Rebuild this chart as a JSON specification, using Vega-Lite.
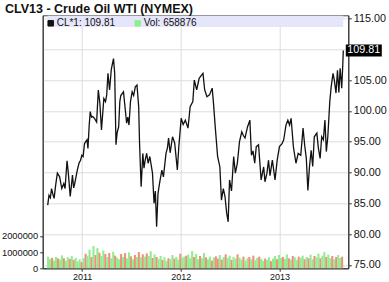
{
  "$schema": "https://vega.github.io/schema/vega-lite/v6.json",
  "width": 305.6,
  "height": 253,
  "autosize": {"type": "none"},
  "padding": {"left": 42.7, "top": 15.3, "right": 40.7, "bottom": 13.7},
  "background": "white",
  "config": {"view": {"stroke": "#444", "strokeWidth": 1}, "font": "Liberation Sans", "axis": {"labelOverlap": false}},
  "title": {"text": "CLV13 - Crude Oil WTI (NYMEX)", "anchor": "start", "frame": "group", "fontSize": 12.5, "fontWeight": "bold", "font": "Liberation Sans", "color": "#111", "dx": -37.7, "dy": 16.5, "offset": 4, "baseline": "alphabetic"},
  "datasets": {
    "price": [
      {"t":2010.651,"p":84.7},{"t":2010.664,"p":86.3},{"t":2010.678,"p":85.9},{"t":2010.690,"p":87.4},{"t":2010.703,"p":86.5},{"t":2010.716,"p":85.8},{"t":2010.732,"p":88.0},{"t":2010.749,"p":89.9},{"t":2010.772,"p":89.3},{"t":2010.781,"p":88.5},{"t":2010.794,"p":87.4},{"t":2010.814,"p":88.2},{"t":2010.827,"p":87.4},{"t":2010.847,"p":91.9},{"t":2010.860,"p":89.9},{"t":2010.879,"p":86.1},{"t":2010.889,"p":87.5},{"t":2010.902,"p":89.6},{"t":2010.914,"p":87.5},{"t":2010.925,"p":88.2},{"t":2010.951,"p":90.4},{"t":2010.968,"p":91.5},{"t":2010.984,"p":92.0},{"t":2010.997,"p":92.8},
      {"t":2011.010,"p":92.6},{"t":2011.024,"p":94.7},{"t":2011.036,"p":95.0},{"t":2011.049,"p":95.3},{"t":2011.059,"p":93.9},{"t":2011.071,"p":97.5},{"t":2011.082,"p":99.9},{"t":2011.095,"p":99.0},{"t":2011.108,"p":99.1},{"t":2011.125,"p":98.8},{"t":2011.147,"p":98.2},{"t":2011.164,"p":103.4},{"t":2011.180,"p":101.2},{"t":2011.196,"p":96.9},{"t":2011.220,"p":102.0},{"t":2011.237,"p":101.5},{"t":2011.249,"p":102.6},{"t":2011.262,"p":106.1},{"t":2011.278,"p":103.4},{"t":2011.296,"p":106.8},{"t":2011.318,"p":108.5},{"t":2011.330,"p":106.1},{"t":2011.343,"p":94.5},{"t":2011.355,"p":96.5},{"t":2011.370,"p":97.4},{"t":2011.382,"p":101.5},{"t":2011.392,"p":102.5},{"t":2011.419,"p":103.1},{"t":2011.431,"p":101.2},{"t":2011.451,"p":98.0},{"t":2011.463,"p":99.0},{"t":2011.475,"p":97.7},{"t":2011.490,"p":101.5},{"t":2011.507,"p":103.1},{"t":2011.522,"p":102.5},{"t":2011.539,"p":103.9},{"t":2011.556,"p":104.2},{"t":2011.573,"p":100.7},{"t":2011.582,"p":94.7},{"t":2011.598,"p":87.7},{"t":2011.615,"p":93.1},{"t":2011.627,"p":90.7},{"t":2011.639,"p":92.0},{"t":2011.654,"p":93.1},{"t":2011.669,"p":91.5},{"t":2011.686,"p":92.6},{"t":2011.713,"p":89.9},{"t":2011.729,"p":85.0},{"t":2011.742,"p":87.0},{"t":2011.755,"p":81.2},{"t":2011.769,"p":86.6},{"t":2011.784,"p":88.2},{"t":2011.808,"p":90.4},{"t":2011.824,"p":89.3},{"t":2011.850,"p":93.1},{"t":2011.865,"p":94.0},{"t":2011.876,"p":95.6},{"t":2011.892,"p":93.2},{"t":2011.916,"p":95.8},{"t":2011.938,"p":94.8},{"t":2011.965,"p":90.4},{"t":2011.980,"p":94.2},
      {"t":2012.004,"p":98.8},{"t":2012.024,"p":97.8},{"t":2012.046,"p":98.5},{"t":2012.073,"p":97.2},{"t":2012.095,"p":100.7},{"t":2012.122,"p":101.5},{"t":2012.137,"p":105.0},{"t":2012.161,"p":103.4},{"t":2012.186,"p":105.3},{"t":2012.210,"p":105.8},{"t":2012.225,"p":106.1},{"t":2012.242,"p":103.4},{"t":2012.265,"p":102.3},{"t":2012.291,"p":102.6},{"t":2012.318,"p":103.7},{"t":2012.330,"p":101.5},{"t":2012.350,"p":97.2},{"t":2012.373,"p":92.6},{"t":2012.396,"p":90.9},{"t":2012.412,"p":85.5},{"t":2012.431,"p":87.4},{"t":2012.448,"p":86.1},{"t":2012.465,"p":83.4},{"t":2012.480,"p":82.0},{"t":2012.494,"p":88.8},{"t":2012.514,"p":87.0},{"t":2012.536,"p":92.6},{"t":2012.553,"p":89.9},{"t":2012.573,"p":91.5},{"t":2012.595,"p":95.0},{"t":2012.618,"p":96.6},{"t":2012.634,"p":96.0},{"t":2012.651,"p":95.6},{"t":2012.676,"p":97.4},{"t":2012.700,"p":98.5},{"t":2012.716,"p":92.8},{"t":2012.732,"p":93.5},{"t":2012.749,"p":91.5},{"t":2012.765,"p":94.2},{"t":2012.788,"p":94.5},{"t":2012.814,"p":88.8},{"t":2012.840,"p":90.9},{"t":2012.853,"p":88.5},{"t":2012.873,"p":89.9},{"t":2012.889,"p":92.0},{"t":2012.904,"p":89.5},{"t":2012.928,"p":92.0},{"t":2012.955,"p":88.8},{"t":2012.977,"p":92.0},
      {"t":2013.000,"p":94.2},{"t":2013.026,"p":94.7},{"t":2013.043,"p":95.3},{"t":2013.066,"p":97.7},{"t":2013.085,"p":98.5},{"t":2013.102,"p":97.7},{"t":2013.118,"p":98.8},{"t":2013.141,"p":94.2},{"t":2013.167,"p":91.5},{"t":2013.190,"p":93.1},{"t":2013.216,"p":92.8},{"t":2013.239,"p":97.2},{"t":2013.255,"p":94.5},{"t":2013.272,"p":92.3},{"t":2013.288,"p":87.1},{"t":2013.304,"p":90.9},{"t":2013.321,"p":93.6},{"t":2013.337,"p":91.0},{"t":2013.353,"p":95.8},{"t":2013.379,"p":96.4},{"t":2013.394,"p":94.0},{"t":2013.412,"p":92.3},{"t":2013.428,"p":95.8},{"t":2013.445,"p":95.3},{"t":2013.461,"p":98.5},{"t":2013.475,"p":93.4},{"t":2013.490,"p":95.8},{"t":2013.510,"p":101.5},{"t":2013.524,"p":103.9},{"t":2013.543,"p":106.1},{"t":2013.556,"p":105.0},{"t":2013.573,"p":102.9},{"t":2013.588,"p":106.6},{"t":2013.602,"p":103.0},{"t":2013.615,"p":106.9},{"t":2013.631,"p":103.7},{"t":2013.641,"p":107.2},{"t":2013.647,"p":109.81}
    ],
    "vol": [
      {"t":2010.655,"v":720000,"d":"u"},{"t":2010.675,"v":560000,"d":"u"},{"t":2010.695,"v":650000,"d":"d"},{"t":2010.715,"v":480000,"d":"u"},{"t":2010.735,"v":700000,"d":"u"},{"t":2010.755,"v":610000,"d":"d"},{"t":2010.775,"v":540000,"d":"u"},{"t":2010.795,"v":800000,"d":"u"},{"t":2010.815,"v":620000,"d":"d"},{"t":2010.835,"v":470000,"d":"u"},{"t":2010.855,"v":690000,"d":"u"},{"t":2010.875,"v":580000,"d":"d"},{"t":2010.895,"v":750000,"d":"u"},{"t":2010.915,"v":520000,"d":"d"},{"t":2010.935,"v":640000,"d":"u"},{"t":2010.955,"v":430000,"d":"u"},{"t":2010.975,"v":560000,"d":"u"},{"t":2010.995,"v":380000,"d":"d"},
      {"t":2011.015,"v":620000,"d":"u"},{"t":2011.035,"v":900000,"d":"d"},{"t":2011.055,"v":780000,"d":"u"},{"t":2011.075,"v":1150000,"d":"u"},{"t":2011.095,"v":700000,"d":"d"},{"t":2011.115,"v":1380000,"d":"u"},{"t":2011.135,"v":820000,"d":"d"},{"t":2011.155,"v":1250000,"d":"u"},{"t":2011.175,"v":960000,"d":"d"},{"t":2011.195,"v":760000,"d":"u"},{"t":2011.215,"v":1100000,"d":"u"},{"t":2011.235,"v":880000,"d":"d"},{"t":2011.255,"v":700000,"d":"u"},{"t":2011.275,"v":940000,"d":"d"},{"t":2011.295,"v":620000,"d":"u"},{"t":2011.315,"v":1020000,"d":"u"},{"t":2011.335,"v":780000,"d":"d"},{"t":2011.355,"v":650000,"d":"u"},
      {"t":2011.375,"v":560000,"d":"u"},{"t":2011.395,"v":880000,"d":"d"},{"t":2011.415,"v":700000,"d":"u"},{"t":2011.435,"v":940000,"d":"d"},{"t":2011.455,"v":620000,"d":"u"},{"t":2011.475,"v":980000,"d":"u"},{"t":2011.495,"v":740000,"d":"d"},{"t":2011.515,"v":560000,"d":"u"},{"t":2011.535,"v":820000,"d":"d"},{"t":2011.555,"v":700000,"d":"u"},{"t":2011.575,"v":1000000,"d":"d"},{"t":2011.595,"v":680000,"d":"u"},{"t":2011.615,"v":860000,"d":"d"},{"t":2011.635,"v":720000,"d":"u"},{"t":2011.655,"v":920000,"d":"d"},{"t":2011.675,"v":760000,"d":"u"},{"t":2011.695,"v":1050000,"d":"u"},{"t":2011.715,"v":640000,"d":"d"},
      {"t":2011.735,"v":860000,"d":"u"},{"t":2011.755,"v":700000,"d":"d"},{"t":2011.775,"v":580000,"d":"u"},{"t":2011.795,"v":760000,"d":"u"},{"t":2011.815,"v":520000,"d":"d"},{"t":2011.835,"v":680000,"d":"u"},{"t":2011.855,"v":460000,"d":"u"},{"t":2011.875,"v":620000,"d":"d"},{"t":2011.895,"v":560000,"d":"u"},{"t":2011.915,"v":820000,"d":"u"},{"t":2011.935,"v":600000,"d":"d"},{"t":2011.955,"v":700000,"d":"u"},{"t":2011.975,"v":540000,"d":"u"},{"t":2011.995,"v":900000,"d":"d"},{"t":2012.015,"v":660000,"d":"u"},{"t":2012.035,"v":720000,"d":"u"},{"t":2012.055,"v":780000,"d":"d"},
      {"t":2012.075,"v":840000,"d":"u"},{"t":2012.095,"v":620000,"d":"u"},{"t":2012.115,"v":1060000,"d":"u"},{"t":2012.135,"v":700000,"d":"d"},{"t":2012.155,"v":880000,"d":"u"},{"t":2012.175,"v":560000,"d":"u"},{"t":2012.195,"v":760000,"d":"d"},{"t":2012.215,"v":620000,"d":"u"},{"t":2012.235,"v":940000,"d":"u"},{"t":2012.255,"v":680000,"d":"d"},{"t":2012.275,"v":560000,"d":"u"},{"t":2012.295,"v":720000,"d":"u"},{"t":2012.315,"v":480000,"d":"d"},{"t":2012.335,"v":660000,"d":"u"},{"t":2012.355,"v":740000,"d":"d"},{"t":2012.375,"v":600000,"d":"d"},{"t":2012.395,"v":820000,"d":"u"},{"t":2012.415,"v":540000,"d":"d"},{"t":2012.435,"v":700000,"d":"u"},{"t":2012.455,"v":860000,"d":"d"},
      {"t":2012.475,"v":640000,"d":"u"},{"t":2012.495,"v":780000,"d":"u"},{"t":2012.515,"v":520000,"d":"d"},{"t":2012.535,"v":700000,"d":"u"},{"t":2012.555,"v":600000,"d":"u"},{"t":2012.575,"v":860000,"d":"d"},{"t":2012.595,"v":660000,"d":"u"},{"t":2012.615,"v":540000,"d":"u"},{"t":2012.635,"v":720000,"d":"d"},{"t":2012.655,"v":480000,"d":"u"},{"t":2012.675,"v":620000,"d":"u"},{"t":2012.695,"v":700000,"d":"d"},{"t":2012.715,"v":560000,"d":"u"},{"t":2012.735,"v":780000,"d":"d"},{"t":2012.755,"v":500000,"d":"u"},{"t":2012.775,"v":640000,"d":"u"},{"t":2012.795,"v":720000,"d":"d"},{"t":2012.815,"v":580000,"d":"u"},{"t":2012.835,"v":460000,"d":"u"},{"t":2012.855,"v":600000,"d":"d"},
      {"t":2012.875,"v":520000,"d":"u"},{"t":2012.895,"v":680000,"d":"u"},{"t":2012.915,"v":440000,"d":"d"},{"t":2012.935,"v":600000,"d":"u"},{"t":2012.955,"v":760000,"d":"u"},{"t":2012.975,"v":560000,"d":"d"},{"t":2012.995,"v":820000,"d":"u"},{"t":2013.015,"v":640000,"d":"u"},{"t":2013.035,"v":700000,"d":"d"},{"t":2013.055,"v":580000,"d":"u"},{"t":2013.075,"v":860000,"d":"u"},{"t":2013.095,"v":620000,"d":"d"},{"t":2013.115,"v":540000,"d":"u"},{"t":2013.135,"v":760000,"d":"d"},{"t":2013.155,"v":680000,"d":"u"},{"t":2013.175,"v":500000,"d":"u"},{"t":2013.195,"v":720000,"d":"d"},{"t":2013.215,"v":640000,"d":"u"},{"t":2013.235,"v":780000,"d":"u"},{"t":2013.255,"v":560000,"d":"d"},
      {"t":2013.275,"v":700000,"d":"u"},{"t":2013.295,"v":620000,"d":"d"},{"t":2013.315,"v":840000,"d":"u"},{"t":2013.335,"v":560000,"d":"u"},{"t":2013.355,"v":760000,"d":"d"},{"t":2013.375,"v":680000,"d":"u"},{"t":2013.395,"v":900000,"d":"u"},{"t":2013.415,"v":620000,"d":"d"},{"t":2013.435,"v":780000,"d":"u"},{"t":2013.455,"v":1000000,"d":"u"},{"t":2013.475,"v":700000,"d":"d"},{"t":2013.495,"v":840000,"d":"u"},{"t":2013.515,"v":620000,"d":"u"},{"t":2013.535,"v":760000,"d":"d"},{"t":2013.555,"v":560000,"d":"u"},{"t":2013.575,"v":700000,"d":"d"},{"t":2013.595,"v":820000,"d":"u"},{"t":2013.615,"v":640000,"d":"u"},{"t":2013.635,"v":720000,"d":"d"}
    ],
    "last": [{"t": 2013.647, "p": 109.81}]
  },
  "layer": [
    {
      "data": {"name": "vol"},
      "mark": {"type": "bar", "size": 2.1},
      "encoding": {
        "x": {"field": "t", "type": "quantitative", "scale": {"domain": [2010.651, 2013.647], "nice": false, "zero": false},
          "axis": {"orient": "bottom", "values": [2011, 2012, 2013], "tickCount": 10, "format": "d", "title": null, "grid": true, "gridColor": "#dcdcdc", "domainColor": "#333", "tickColor": "#333", "tickSize": 3, "labelPadding": 1, "labelFontSize": 9, "labelFont": "Liberation Sans", "labelColor": "#111", "labelOverlap": false}},
        "y": {"field": "v", "type": "quantitative", "scale": {"domain": [0, 15620000], "nice": false},
          "axis": {"orient": "left", "values": [0, 1000000, 2000000], "tickCount": 10, "format": "d", "title": null, "grid": false, "domainColor": "#333", "tickColor": "#333", "tickSize": 3, "labelPadding": 2, "labelFontSize": 9.3, "labelFont": "Liberation Sans", "labelColor": "#111", "labelOverlap": false}},
        "fill": {"field": "d", "type": "nominal", "scale": {"domain": ["u", "d"], "range": ["#90EE90", "#F0907C"]}, "legend": null}
      }
    },
    {
      "layer": [
        {
          "data": {"name": "price"},
          "mark": {"type": "line", "strokeWidth": 1.3},
          "encoding": {
            "x": {"field": "t", "type": "quantitative"},
            "y": {"field": "p", "type": "quantitative", "scale": {"domain": [74.45, 115.52], "nice": false, "zero": false},
              "axis": {"orient": "right", "values": [75, 80, 85, 90, 95, 100, 105, 110, 115], "tickCount": 20, "labelExpr": "datum.value == 110 ? '' : format(datum.value, '.2f')", "labelOverlap": false, "title": null, "grid": true, "gridColor": "#dcdcdc", "domainColor": "#333", "tickColor": "#333", "tickSize": 3, "labelPadding": 2, "labelFontSize": 10.8, "labelFont": "Liberation Sans", "labelColor": "#111"}},
            "color": {"datum": "CL*1: 109.81", "type": "nominal", "scale": {"domain": ["CL*1: 109.81", "Vol: 658876"], "range": ["#111111", "#90EE90"]},
              "legend": {"orient": "none", "legendX": 3, "legendY": 3, "direction": "horizontal", "title": null, "symbolType": "square", "symbolSize": 30, "symbolStrokeWidth": 1, "labelFontSize": 10, "labelFont": "Liberation Sans", "labelColor": "#111", "labelOffset": 1, "columnPadding": 17, "padding": 0, "symbolOpacity": 1,
                "encode": {"symbols": {"update": {"fill": {"scale": "color", "field": "value"}, "stroke": {"value": "#333"}, "strokeWidth": {"value": 1}, "opacity": {"value": 1}}}}}}
          }
        },
        {
          "data": {"values": [{}]},
          "mark": {"type": "rect", "color": "#E6E6FA"},
          "encoding": {"x": {"datum": 2010.651, "type": "quantitative"}, "x2": {"datum": 2013.647}, "y": {"datum": 115.45, "type": "quantitative"}, "y2": {"datum": 113.62}}
        },
        {
          "data": {"name": "last"},
          "mark": {"type": "point", "shape": "M-3,-1H3V1H-3Z", "filled": true, "color": "#000", "opacity": 1, "size": 144, "xOffset": 20.5},
          "encoding": {"x": {"field": "t", "type": "quantitative"}, "y": {"field": "p", "type": "quantitative"}}
        },
        {
          "data": {"name": "last"},
          "mark": {"type": "text", "color": "#fff", "fontSize": 10.8, "font": "Liberation Sans", "dx": 20.5, "align": "center", "baseline": "middle"},
          "encoding": {"x": {"field": "t", "type": "quantitative"}, "y": {"field": "p", "type": "quantitative"}, "text": {"field": "p", "type": "quantitative", "format": ".2f"}}
        }
      ]
    }
  ],
  "resolve": {"scale": {"y": "independent"}}
}
